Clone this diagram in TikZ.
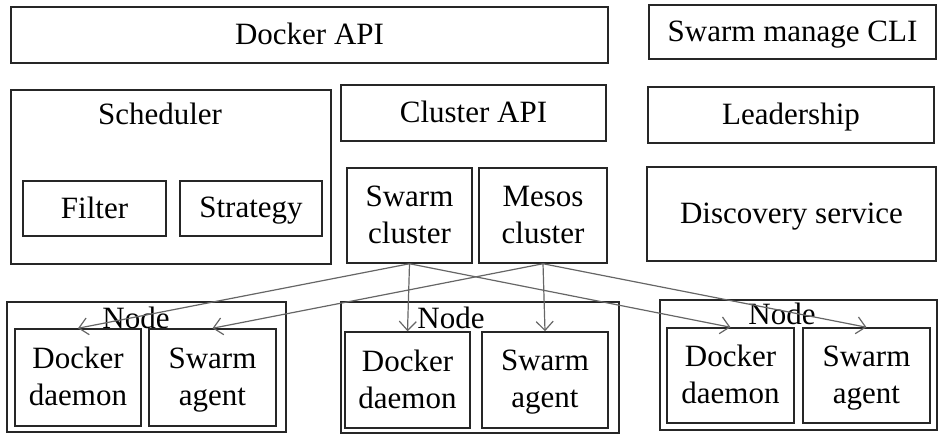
\documentclass[tikz,border=0pt]{standalone}
\usepackage{fontspec}
\setmainfont{Liberation Serif}
\usetikzlibrary{arrows.meta}

\begin{document}
\begin{tikzpicture}[
    x=0.5pt, y=-0.5pt,
    font=\fontsize{15.5}{18.5}\selectfont,
    box/.style={rectangle, draw=black!85, line width=0.75pt, inner sep=0pt, align=center, text depth=0.1em},
    arrow/.style={-{Straight Barb[length=4.5pt, width=8.5pt]}, draw=black!60, line width=0.6pt}
]
    \useasboundingbox (0,0) rectangle (945,437);

    % manager
    \node[box, minimum width=298.5pt, minimum height=28pt] (dockerapi) at (309.5,35) {Docker API};
    \node[box, minimum width=143.5pt, minimum height=27pt] (cli) at (792.5,32) {Swarm manage CLI};

    \node[box, minimum width=160pt, minimum height=87pt] (sched) at (171,177) {};
    \node (schedlbl) at (160,114) {Scheduler};
    \node[box, minimum width=71.5pt, minimum height=27.5pt] (filter) at (94.5,208.5) {Filter};
    \node[box, minimum width=71pt, minimum height=27.5pt] (strategy) at (251,208.5) {Strategy};

    \node[box, minimum width=132.5pt, minimum height=28pt] (clusterapi) at (473.5,113) {Cluster API};
    \node[box, minimum width=62.5pt, minimum height=47.5pt] (swarm) at (409.5,215.5) {Swarm\\cluster};
    \node[box, minimum width=64pt, minimum height=47.5pt] (mesos) at (543,215.5) {Mesos\\cluster};

    \node[box, minimum width=143pt, minimum height=28pt] (leader) at (791,115) {Leadership};
    \node[box, minimum width=144.5pt, minimum height=47pt] (discovery) at (791.5,214) {Discovery service};

    % nodes
    \node[box, minimum width=139.5pt, minimum height=65pt] (node1) at (146.5,367) {};
    \node (node1lbl) at (136,318) {Node};
    \node[box, minimum width=63pt, minimum height=48.5pt] (dd1) at (78,377.5) {Docker\\daemon};
    \node[box, minimum width=63.5pt, minimum height=48.5pt] (sa1) at (212.5,377.5) {Swarm\\agent};

    \node[box, minimum width=139pt, minimum height=65.5pt] (node2) at (480,367.5) {};
    \node (node2lbl) at (451,318) {Node};
    \node[box, minimum width=62.5pt, minimum height=48pt] (dd2) at (407.5,380) {Docker\\daemon};
    \node[box, minimum width=63pt, minimum height=48pt] (sa2) at (545,380) {Swarm\\agent};

    \node[box, minimum width=138.5pt, minimum height=65pt] (node3) at (798.5,365) {};
    \node (node3lbl) at (782,314) {Node};
    \node[box, minimum width=63.5pt, minimum height=47.5pt] (dd3) at (730.5,375.5) {Docker\\daemon};
    \node[box, minimum width=63.5pt, minimum height=47.5pt] (sa3) at (866.5,375.5) {Swarm\\agent};

    \draw[arrow] (swarm.south) -- (dd1.north);
    \draw[arrow] (swarm.south) -- (dd2.north);
    \draw[arrow] (swarm.south) -- (dd3.north);
    \draw[arrow] (mesos.south) -- (sa1.north);
    \draw[arrow] (mesos.south) -- (sa2.north);
    \draw[arrow] (mesos.south) -- (sa3.north);
\end{tikzpicture}
\end{document}
